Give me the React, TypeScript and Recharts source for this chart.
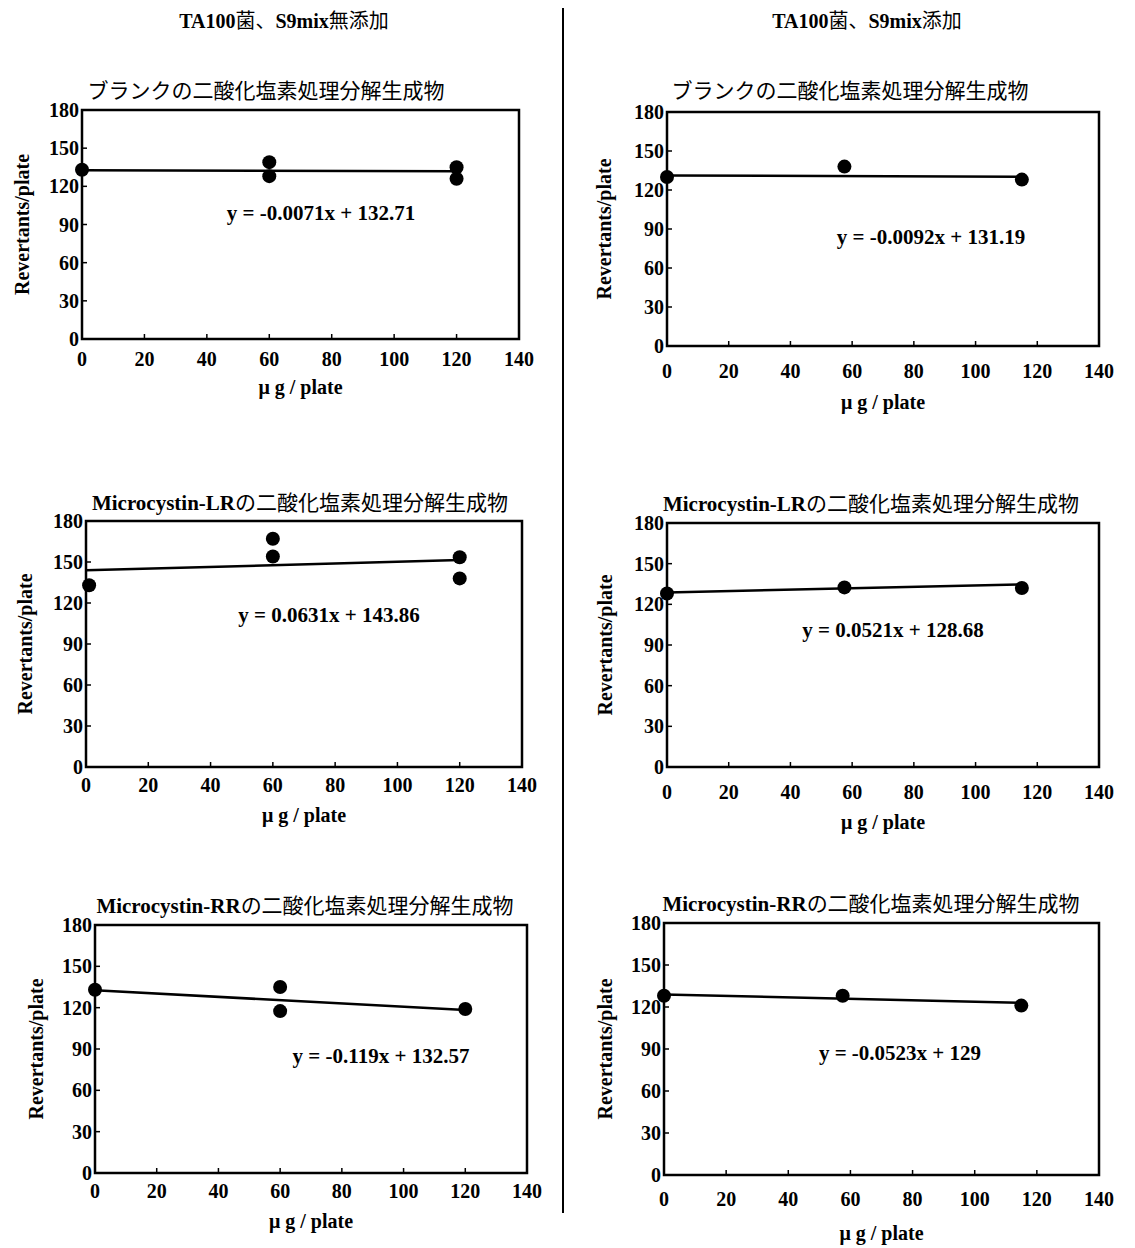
import React from "react";
import { ScatterChart, Scatter, XAxis, YAxis, ReferenceArea } from "recharts";

const FONT = "'Liberation Serif', 'Noto Sans CJK JP', serif";

const xTicks = [0, 20, 40, 60, 80, 100, 120, 140];
const yTicks = [0, 30, 60, 90, 120, 150, 180];

const columnTitles = ["TA100菌、S9mix無添加", "TA100菌、S9mix添加"];
const panelTitles = [
    "ブランクの二酸化塩素処理分解生成物",
    "ブランクの二酸化塩素処理分解生成物",
    "Microcystin-LRの二酸化塩素処理分解生成物",
    "Microcystin-LRの二酸化塩素処理分解生成物",
    "Microcystin-RRの二酸化塩素処理分解生成物",
    "Microcystin-RRの二酸化塩素処理分解生成物",
];
const equations = [
    "y = -0.0071x + 132.71",
    "y = -0.0092x + 131.19",
    "y = 0.0631x + 143.86",
    "y = 0.0521x + 128.68",
    "y = -0.119x + 132.57",
    "y = -0.0523x + 129",
];

// S9mix 無添加 doses / revertants
const doseNoS9Blank = [0, 60, 60, 120, 120];
const revNoS9Blank = [133, 139, 128, 135, 126];
const doseNoS9LR = [1, 60, 60, 120, 120];
const revNoS9LR = [133, 167, 154, 153.5, 138];
const doseNoS9RR = [0, 60, 60, 120];
const revNoS9RR = [133, 135, 117.5, 119];

// S9mix 添加
const doseS9 = [0, 57.5, 115];
const revS9Blank = [130, 138, 128];
const revS9LR = [128, 132.5, 132];
const revS9RR = [128, 128, 121];

// regression line end points
const fitDoseNoS9 = [0, 120];
const fitDoseS9 = [0, 115];
const fitNoS9Blank = [132.7, 131.9];
const fitS9Blank = [131.2, 130.1];
const fitNoS9LR = [143.9, 151.4];
const fitS9LR = [128.7, 134.7];
const fitNoS9RR = [132.6, 118.3];
const fitS9RR = [129.0, 123.0];

const zip = (xs: number[], ys: number[]) => xs.map((x, i) => ({ x, y: ys[i] }));

const series = [
    { pts: zip(doseNoS9Blank, revNoS9Blank), fit: zip(fitDoseNoS9, fitNoS9Blank) },
    { pts: zip(doseS9, revS9Blank), fit: zip(fitDoseS9, fitS9Blank) },
    { pts: zip(doseNoS9LR, revNoS9LR), fit: zip(fitDoseNoS9, fitNoS9LR) },
    { pts: zip(doseS9, revS9LR), fit: zip(fitDoseS9, fitS9LR) },
    { pts: zip(doseNoS9RR, revNoS9RR), fit: zip(fitDoseNoS9, fitNoS9RR) },
    { pts: zip(doseS9, revS9RR), fit: zip(fitDoseS9, fitS9RR) },
];

// plot box in page px, plus text placements
const layout = [
    { left: 82, top: 110, w: 437, h: 229, tx: 266, ty: 90, ex: 321, ey: 213, xTick: 21, xLab: 49, yLab: 60 },
    { left: 667, top: 112, w: 432, h: 234, tx: 850, ty: 90, ex: 931, ey: 237, xTick: 26, xLab: 57, yLab: 63 },
    { left: 86, top: 521, w: 436, h: 246, tx: 300, ty: 502, ex: 329, ey: 615, xTick: 19, xLab: 49, yLab: 61 },
    { left: 667, top: 523, w: 432, h: 244, tx: 871, ty: 503, ex: 893, ey: 630, xTick: 26, xLab: 56, yLab: 62 },
    { left: 95, top: 925, w: 432, h: 248, tx: 305, ty: 905, ex: 381, ey: 1056, xTick: 19, xLab: 49, yLab: 59 },
    { left: 664, top: 923, w: 435, h: 252, tx: 871, ty: 903, ex: 900, ey: 1053, xTick: 25, xLab: 59, yLab: 59 },
];

const ML = 74;
const MB = 74;
const MT = 20;
const MR = 24;

const tickStyle = { fill: "#000", fontSize: 20, fontWeight: 700, fontFamily: FONT };
const labelStyle = { fill: "#000", fontSize: 20, fontWeight: 700, fontFamily: FONT };

const Dot = (p: any) => <circle cx={p.cx} cy={p.cy} r={7} fill="#000" />;
const NoDot = () => <g />;

// Latin text bold serif, kana/kanji in regular gothic like the scan
function Mixed({ text }: { text: string }) {
    const parts = text.match(/[\u3000-\u30ff\u4e00-\u9fff]+|[^\u3000-\u30ff\u4e00-\u9fff]+/g) || [];
    return (
        <>
            {parts.map((p, i) => /[\u3000-\u30ff\u4e00-\u9fff]/.test(p)
                ? <span key={i} style={{ fontWeight: 400, fontFamily: "'Noto Sans CJK JP'" }}>{p}</span>
                : <span key={i} style={{ fontWeight: 700 }}>{p}</span>)}
        </>
    );
}

function Panel({ idx }: { idx: number }) {
    const c = layout[idx];
    const s = series[idx];
    const W = c.w + ML + MR;
    const H = c.h + MT + MB;
    return (
        <>
            <div style={{ position: "absolute", left: c.left - ML, top: c.top - MT }}>
                <ScatterChart width={W} height={H} margin={{ top: MT, right: MR, bottom: 0, left: 0 }}>
                    <XAxis
                        type="number"
                        dataKey="x"
                        domain={[0, 140]}
                        ticks={xTicks}
                        interval={0}
                        height={MB}
                        axisLine={false}
                        tickSize={-5}
                        tickMargin={c.xTick - 3}
                        tickLine={{ stroke: "#000", strokeWidth: 1.5 }}
                        tick={tickStyle}
                        label={{ value: "μ g / plate", position: "insideTop", offset: c.xLab - 8, ...labelStyle }}
                    />
                    <YAxis
                        type="number"
                        dataKey="y"
                        domain={[0, 180]}
                        ticks={yTicks}
                        interval={0}
                        width={ML}
                        axisLine={false}
                        tickSize={-5}
                        tickMargin={8}
                        tickLine={{ stroke: "#000", strokeWidth: 1.5 }}
                        tick={tickStyle}
                        label={{
                            value: "Revertants/plate",
                            angle: -90,
                            position: "insideLeft",
                            offset: ML - c.yLab,
                            ...labelStyle,
                            style: { textAnchor: "middle" },
                        }}
                    />
                    <ReferenceArea x1={0} x2={140} y1={0} y2={180} fill="none" stroke="#000" strokeWidth={2.5} />
                    <Scatter
                        data={s.fit}
                        line={{ stroke: "#000", strokeWidth: 2.5 }}
                        shape={NoDot}
                        isAnimationActive={false}
                    />
                    <Scatter data={s.pts} shape={Dot} isAnimationActive={false} />
                </ScatterChart>
            </div>
            <div style={{
                position: "absolute", left: c.tx, top: c.ty, transform: "translate(-50%, -50%)",
                whiteSpace: "nowrap", fontSize: 21, lineHeight: 1, fontFamily: FONT,
            }}>
                <Mixed text={panelTitles[idx]} />
            </div>
            <div style={{
                position: "absolute", left: c.ex, top: c.ey, transform: "translate(-50%, -50%)",
                whiteSpace: "nowrap", fontSize: 21, fontWeight: 700, lineHeight: 1, fontFamily: FONT,
            }}>
                {equations[idx]}
            </div>
        </>
    );
}

export default function App() {
    return (
        <div style={{ position: "absolute", left: 0, top: 0, width: 1135, height: 1248, background: "#fff", fontFamily: FONT, color: "#000" }}>
            <div style={{ position: "absolute", left: 284, top: 20, transform: "translate(-50%, -50%)", whiteSpace: "nowrap", fontSize: 20, lineHeight: 1 }}>
                <Mixed text={columnTitles[0]} />
            </div>
            <div style={{ position: "absolute", left: 867, top: 20, transform: "translate(-50%, -50%)", whiteSpace: "nowrap", fontSize: 20, lineHeight: 1 }}>
                <Mixed text={columnTitles[1]} />
            </div>
            <div style={{ position: "absolute", left: 562, top: 8, width: 2, height: 1205, background: "#000" }} />
            {layout.map((_, i) => <Panel key={i} idx={i} />)}
        </div>
    );
}
